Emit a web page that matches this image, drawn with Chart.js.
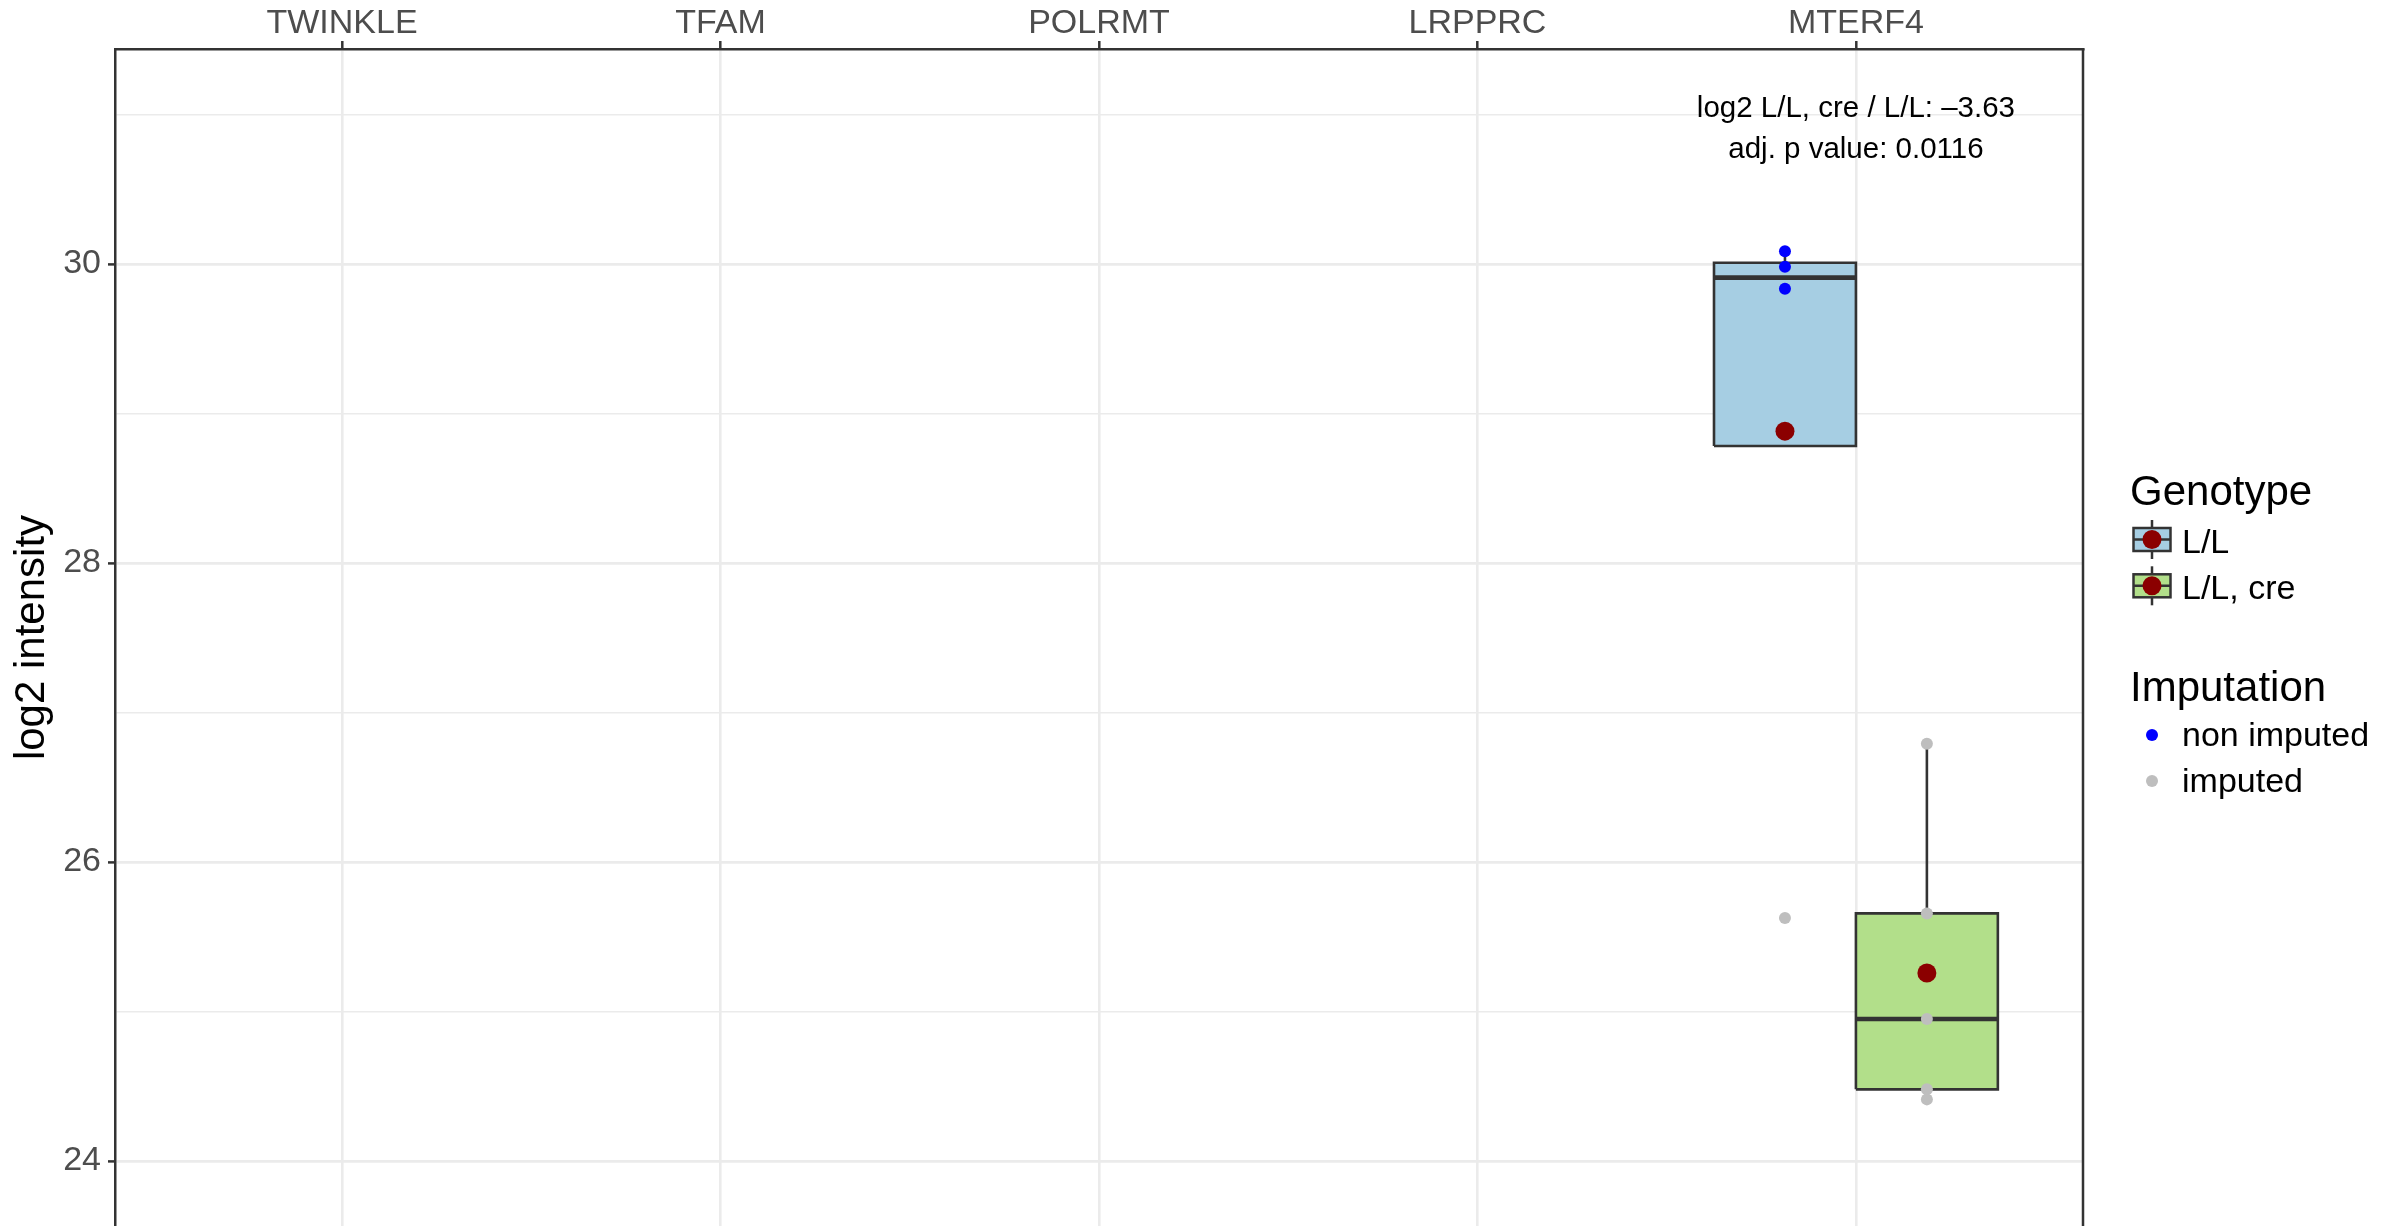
<!DOCTYPE html>
<html>
<head>
<meta charset="utf-8">
<title>log2 intensity by protein</title>
<script src="https://cdn.jsdelivr.net/npm/chart.js@4.4.1/dist/chart.umd.min.js"></script>
<style>
    html, body { margin: 0; padding: 0; background: #ffffff; overflow: hidden; }
    #wrap { position: relative; width: 2384px; height: 1226px; }
    #chart { display: block; }
</style>
</head>
<body>
<div id="wrap"><canvas id="chart" width="2384" height="1226"></canvas></div>
<script>
// Values
const categories = ['TWINKLE', 'TFAM', 'POLRMT', 'LRPPRC', 'MTERF4'];
const genotypes = ['L/L', 'L/L, cre'];
const imputationLabels = ['non imputed', 'imputed'];
const yTickValues = [24, 25, 26, 27, 28, 29, 30, 31];
const yTickLabels = ['24', '', '26', '', '28', '', '30', ''];

// Only MTERF4 has measurements
const measuredGene = 'MTERF4';
const llValues = [30.085, 29.982, 29.835, 25.625];
const llImputed = [false, false, false, true];
const llCreValues = [26.791, 25.656, 24.950, 24.479, 24.412];
const llCreImputed = [true, true, true, true, true];

const annotationLines = ['log2 L/L, cre / L/L: \u20133.63', 'adj. p value: 0.0116'];

(function() {
    'use strict';

    const FONT = "'Liberation Sans', Arial, Helvetica, sans-serif";
    const DARK = '#333333';
    const GRID = '#EBEBEB';
    const fills = ['#A6CEE3', '#B2DF8A'];
    const pointColors = { imputed: '#BEBEBE', measured: '#0000FF' };
    const meanColor = '#8B0000';
    const dodge = 0.1875; // half of ggplot's 0.75 box width

    Chart.defaults.font.family = FONT;

    /**
     * R type 7 quantile of a sorted array
     */
    function quantile(sorted, p) {
        const h = (sorted.length - 1) * p;
        const lo = Math.floor(h);
        const hi = Math.ceil(h);
        return sorted[lo] + (h - lo) * (sorted[hi] - sorted[lo]);
    }

    /**
     * Box statistics like geom_boxplot computes them
     */
    function boxStats(values) {
        const s = values.slice().sort((a, b) => a - b);
        const q1 = quantile(s, 0.25);
        const med = quantile(s, 0.5);
        const q3 = quantile(s, 0.75);
        const iqr = q3 - q1;
        const inside = s.filter(v => v >= q1 - 1.5 * iqr && v <= q3 + 1.5 * iqr);
        const mean = s.reduce((a, b) => a + b, 0) / s.length;
        return { q1, med, q3, lo: inside[0], hi: inside[inside.length - 1], mean };
    }

    const lineBase = { type: 'line', pointRadius: 0, borderColor: DARK, fill: false, tension: 0 };

    function groupDatasets(values, imputed, groupIndex) {
        const st = boxStats(values);
        const cx = categories.indexOf(measuredGene) + (groupIndex === 0 ? -dodge : dodge);
        const x0 = cx - dodge;
        const x1 = cx + dodge;
        return [
            Object.assign({}, lineBase, { order: 4, borderWidth: 2.6,
                data: [{ x: cx, y: st.q3 }, { x: cx, y: st.hi }] }),
            Object.assign({}, lineBase, { order: 4, borderWidth: 2.6,
                data: [{ x: cx, y: st.q1 }, { x: cx, y: st.lo }] }),
            Object.assign({}, lineBase, { order: 3, borderWidth: 2.6, fill: 'shape',
                backgroundColor: fills[groupIndex], borderJoinStyle: 'miter',
                data: [{ x: x0, y: st.q1 }, { x: x0, y: st.q3 }, { x: x1, y: st.q3 },
                       { x: x1, y: st.q1 }, { x: x0, y: st.q1 }] }),
            Object.assign({}, lineBase, { order: 2, borderWidth: 4.6,
                data: [{ x: x0, y: st.med }, { x: x1, y: st.med }] }),
            {
                type: 'scatter', order: 1, pointRadius: 6, borderWidth: 0,
                pointBackgroundColor: imputed.map(f => f ? pointColors.imputed : pointColors.measured),
                data: values.map(v => ({ x: cx, y: v }))
            },
            {
                type: 'scatter', order: 0, pointRadius: 9.5, borderWidth: 0,
                pointBackgroundColor: meanColor,
                data: [{ x: cx, y: st.mean }]
            }
        ];
    }

    /**
     * Right panel edge, annotation text and the two legends
     */
    const decorations = {
        id: 'decorations',
        afterDraw(chart) {
            const { ctx, chartArea, scales } = chart;
            ctx.save();

            // right border of the panel
            ctx.strokeStyle = DARK;
            ctx.lineWidth = 2.5;
            ctx.beginPath();
            ctx.moveTo(chartArea.right, chartArea.top);
            ctx.lineTo(chartArea.right, chartArea.bottom);
            ctx.stroke();

            // annotation above MTERF4
            ctx.fillStyle = '#000000';
            ctx.font = '29.5px ' + FONT;
            ctx.textAlign = 'center';
            ctx.textBaseline = 'alphabetic';
            const ax = scales.x.getPixelForValue(categories.indexOf(measuredGene));
            const ay = scales.y.getPixelForValue(30.98);
            annotationLines.forEach((t, i) => ctx.fillText(t, ax, ay + i * 41));

            // legends
            const lx = chartArea.right + 47;
            const kx = chartArea.right + 69;
            const tx = chartArea.right + 99;
            ctx.textAlign = 'left';
            ctx.font = '42px ' + FONT;
            ctx.fillText('Genotype', lx, 505);
            ctx.fillText('Imputation', lx, 701);

            ctx.font = '34px ' + FONT;
            genotypes.forEach((g, i) => {
                const cy = 539.5 + i * 46.3;
                ctx.strokeStyle = DARK;
                ctx.lineWidth = 2.5;
                ctx.beginPath();
                ctx.moveTo(kx, cy - 19.5);
                ctx.lineTo(kx, cy + 19.5);
                ctx.stroke();
                ctx.fillStyle = fills[i];
                ctx.fillRect(kx - 18.5, cy - 11.5, 37, 23);
                ctx.strokeRect(kx - 18.5, cy - 11.5, 37, 23);
                ctx.beginPath();
                ctx.moveTo(kx - 18.5, cy);
                ctx.lineTo(kx + 18.5, cy);
                ctx.stroke();
                ctx.fillStyle = meanColor;
                ctx.beginPath();
                ctx.arc(kx, cy, 9.5, 0, Math.PI * 2);
                ctx.fill();
                ctx.fillStyle = '#000000';
                ctx.fillText(g, tx, cy + 13.5);
            });

            imputationLabels.forEach((lab, i) => {
                const cy = 735 + i * 46;
                ctx.fillStyle = i === 0 ? pointColors.measured : pointColors.imputed;
                ctx.beginPath();
                ctx.arc(kx, cy, 6, 0, Math.PI * 2);
                ctx.fill();
                ctx.fillStyle = '#000000';
                ctx.fillText(lab, tx, cy + 11);
            });

            ctx.restore();
        }
    };

    const datasets = []
        .concat(groupDatasets(llValues, llImputed, 0))
        .concat(groupDatasets(llCreValues, llCreImputed, 1));

    new Chart(document.getElementById('chart'), {
        type: 'scatter',
        data: { datasets: datasets },
        options: {
            responsive: false,
            maintainAspectRatio: false,
            animation: false,
            layout: { autoPadding: false, padding: { left: 0, top: 0, right: 301, bottom: 0 } },
            plugins: { legend: { display: false }, tooltip: { enabled: false } },
            scales: {
                x: {
                    type: 'linear',
                    position: 'top',
                    min: -0.6,
                    max: 4.6,
                    afterBuildTicks: s => { s.ticks = categories.map((c, i) => ({ value: i })); },
                    afterFit: s => {
                        s.height = 49;
                        s.paddingLeft = 0;
                        s.paddingRight = 0;
                    },
                    ticks: {
                        callback: (v, i) => categories[i],
                        color: '#4D4D4D',
                        font: { size: 34, lineHeight: 1 },
                        padding: 0,
                        maxRotation: 0,
                        autoSkip: false
                    },
                    grid: { color: GRID, lineWidth: 2.6, tickLength: 8, tickColor: DARK, tickWidth: 2.5 },
                    border: { display: true, color: DARK, width: 2.5 }
                },
                y: {
                    type: 'linear',
                    position: 'left',
                    min: 23.565,
                    max: 31.438,
                    afterBuildTicks: s => { s.ticks = yTickValues.map(v => ({ value: v })); },
                    afterFit: s => {
                        s.width = 115;
                        s.paddingTop = 0;
                        s.paddingBottom = 0;
                    },
                    ticks: {
                        callback: (v, i) => yTickLabels[i],
                        color: '#4D4D4D',
                        font: { size: 34 },
                        padding: 7,
                        autoSkip: false
                    },
                    grid: {
                        color: GRID,
                        lineWidth: c => (c.tick && c.tick.value % 2 === 0 ? 2.8 : 1.4),
                        tickLength: 7,
                        tickColor: c => (c.tick && c.tick.value % 2 === 0 ? DARK : 'rgba(0,0,0,0)'),
                        tickWidth: 2.5
                    },
                    border: { display: true, color: DARK, width: 2.5 },
                    title: {
                        display: true,
                        text: 'log2 intensity',
                        color: '#000000',
                        font: { size: 42 },
                        padding: { top: 7, bottom: 0 }
                    }
                }
            }
        },
        plugins: [decorations]
    });
})();
</script>
</body>
</html>
